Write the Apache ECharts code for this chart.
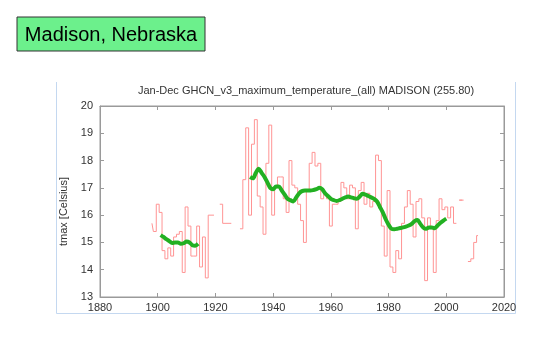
<!DOCTYPE html>
<html>
<head>
<meta charset="utf-8">
<script src="https://cdn.jsdelivr.net/npm/echarts@6/dist/echarts.min.js"></script>
<style>
  html, body { margin: 0; padding: 0; background: #fff; }
  #chart { width: 550px; height: 353px; }
</style>
</head>
<body>
<div id="chart"></div>
<script>
// annual tmax, one array per unbroken run of years
var run1Start = 1898;
var run1 = [15.7, 15.4, 16.4, 16.1, 14.7, 14.4, 14.8, 14.5, 15.2, 15.3,
            15.4, 13.9, 16.3, 15.6, 14.5, 14.5, 15.6, 14.1, 15.2, 13.7,
            16.0];
var run2Start = 1922;
var run2 = [16.4, 15.7];
var run3Start = 1929;
var run3 = [15.5, 17.3, 19.2, 16.0, 18.6, 19.5, 16.7, 16.3, 15.3, 17.9,   // 1929-1938
            19.3, 16.0, 17.0, 17.4, 17.4, 16.6, 16.1, 18.0, 17.1, 17.0,   // 1939-1948
            16.4, 15.8, 15.0, 16.9, 17.9, 18.3, 17.8, 17.9, 16.6, 16.8,   // 1949-1958
            16.6, 15.6, 16.4, 16.4, 16.5, 17.2, 17.0, 16.6, 17.1, 17.0,   // 1959-1968
            15.5, 16.9, 17.2, 16.4, 16.8, 16.3, 16.5, 18.2, 18.0, 15.6,   // 1969-1978
            14.5, 16.9, 14.1, 13.9, 14.7, 14.4, 15.7, 16.3, 16.9, 16.4,   // 1979-1988
            15.2, 16.5, 16.6, 15.9, 13.6, 15.9, 15.5, 13.9, 15.8, 16.6,   // 1989-1998
            16.2, 16.3, 15.9, 16.3, 15.7];                                // 1999-2003
var run4Start = 2005;
var run4 = [16.55];
var run5Start = 2008;
var run5 = [14.3, 14.4, 15.0, 15.25];

// smoothed curve
var smooth1Start = 1901;
var smooth1 = [15.27, 15.2, 15.12, 15.05, 14.98, 15.0, 15.0, 14.95, 14.97, 15.03,
               15.0, 14.9, 14.88, 14.95];
var smooth2Start = 1932;
var smooth2 = [17.4, 17.35, 17.55, 17.7, 17.55, 17.4, 17.2, 17.0, 16.95, 17.05,   // 1932-1941
               17.05, 16.9, 16.75, 16.6, 16.55, 16.5, 16.65, 16.8, 16.88, 16.9,   // 1942-1951
               16.9, 16.9, 16.92, 16.95, 17.0, 16.95, 16.8, 16.7, 16.6, 16.55,    // 1952-1961
               16.52, 16.55, 16.6, 16.65, 16.68, 16.65, 16.62, 16.6, 16.68, 16.78, // 1962-1971
               16.75, 16.7, 16.65, 16.6, 16.5, 16.3, 16.1, 15.85, 15.65, 15.5,    // 1972-1981
               15.48, 15.5, 15.53, 15.55, 15.58, 15.62, 15.68, 15.78, 15.82, 15.68, // 1982-1991
               15.55, 15.5, 15.55, 15.55, 15.52, 15.62, 15.72, 15.8, 15.87];      // 1992-2000

var xTicks = [1880, 2020, 20];
var yTicks = [13, 20, 1];

// join runs into one list, null between them so the line breaks
function joinRuns(runs) {
  var out = [];
  runs.forEach(function (r, k) {
    if (k > 0) out.push([r[0] - 1, null]);
    r[1].forEach(function (v, i) {
      var item = { value: [r[0] + i, v] };
      if (r[1].length === 1) {
        item.symbol = 'rect';
        item.symbolSize = [3, 1];
      }
      out.push(item);
    });
  });
  return out;
}

var annual = joinRuns([[run1Start, run1], [run2Start, run2], [run3Start, run3],
                       [run4Start, run4], [run5Start, run5]]);
var smoothed = joinRuns([[smooth1Start, smooth1], [smooth2Start, smooth2]]);

var myChart = echarts.init(document.getElementById('chart'));
var axisGrey = '#9a9a9a';
var textCol = '#333';
var font = 'Liberation Sans';

var option = {
  animation: false,
  backgroundColor: '#fff',
  title: {
    text: 'Jan-Dec GHCN_v3_maximum_temperature_(all) MADISON (255.80)',
    left: 301,
    top: 80,
    textAlign: 'center',
    textStyle: { fontFamily: font, fontSize: 11, fontWeight: 'normal', color: textCol }
  },
  graphic: [
    { type: 'rect', shape: { x: 17, y: 17, width: 188, height: 34 },
      style: { fill: '#6cf08c', stroke: '#333', lineWidth: 1 } },
    { type: 'text', x: 111, y: 35,
      style: { text: 'Madison, Nebraska', fill: '#000', fontFamily: font, fontSize: 20,
               textAlign: 'center', textVerticalAlign: 'middle' } },
    { type: 'polyline', shape: { points: [[56.5, 82], [56.5, 313.5], [515.5, 313.5], [515.5, 82]] },
      style: { stroke: '#c4d8f0', fill: null, lineWidth: 1 } }
  ],
  grid: { left: 100, right: 46, top: 106, bottom: 56, show: true, borderColor: axisGrey, borderWidth: 1 },
  xAxis: [
    { type: 'value', min: xTicks[0], max: xTicks[1], interval: xTicks[2], position: 'bottom',
      axisLine: { show: true, lineStyle: { color: axisGrey } },
      axisTick: { inside: true, length: 4, lineStyle: { color: axisGrey } },
      axisLabel: { color: textCol, fontFamily: font, fontSize: 11, margin: 5,
                   formatter: function (v) { return String(v); } },
      splitLine: { show: false } },
    { type: 'value', min: xTicks[0], max: xTicks[1], interval: xTicks[2], position: 'top',
      axisLine: { show: true, lineStyle: { color: axisGrey } },
      axisTick: { inside: true, length: 4, lineStyle: { color: axisGrey } },
      axisLabel: { show: false }, splitLine: { show: false } }
  ],
  yAxis: [
    { type: 'value', min: yTicks[0], max: yTicks[1], interval: yTicks[2], position: 'left',
      name: 'tmax [Celsius]', nameLocation: 'middle', nameGap: 30,
      nameTextStyle: { color: textCol, fontFamily: font, fontSize: 11, padding: [0, 20, 0, 0] },
      axisLine: { show: true, lineStyle: { color: axisGrey } },
      axisTick: { inside: true, length: 4, lineStyle: { color: axisGrey } },
      axisLabel: { color: textCol, fontFamily: font, fontSize: 11, margin: 7 },
      splitLine: { show: false } },
    { type: 'value', min: yTicks[0], max: yTicks[1], interval: yTicks[2], position: 'right',
      axisLine: { show: true, lineStyle: { color: axisGrey } },
      axisTick: { inside: true, length: 4, lineStyle: { color: axisGrey } },
      axisLabel: { show: false }, splitLine: { show: false } }
  ],
  series: [
    { name: 'annual', type: 'line', step: 'middle', data: annual,
      showSymbol: true, symbol: 'none', connectNulls: false,
      itemStyle: { color: '#ff9494' },
      lineStyle: { color: '#ff9494', width: 1 } },
    { name: 'smoothed', type: 'line', smooth: 0.3, data: smoothed,
      showSymbol: false, symbol: 'none', connectNulls: false,
      lineStyle: { color: '#22b022', width: 4 } }
  ]
};

myChart.setOption(option);
window.onresize = myChart.resize;
</script>
</body>
</html>
